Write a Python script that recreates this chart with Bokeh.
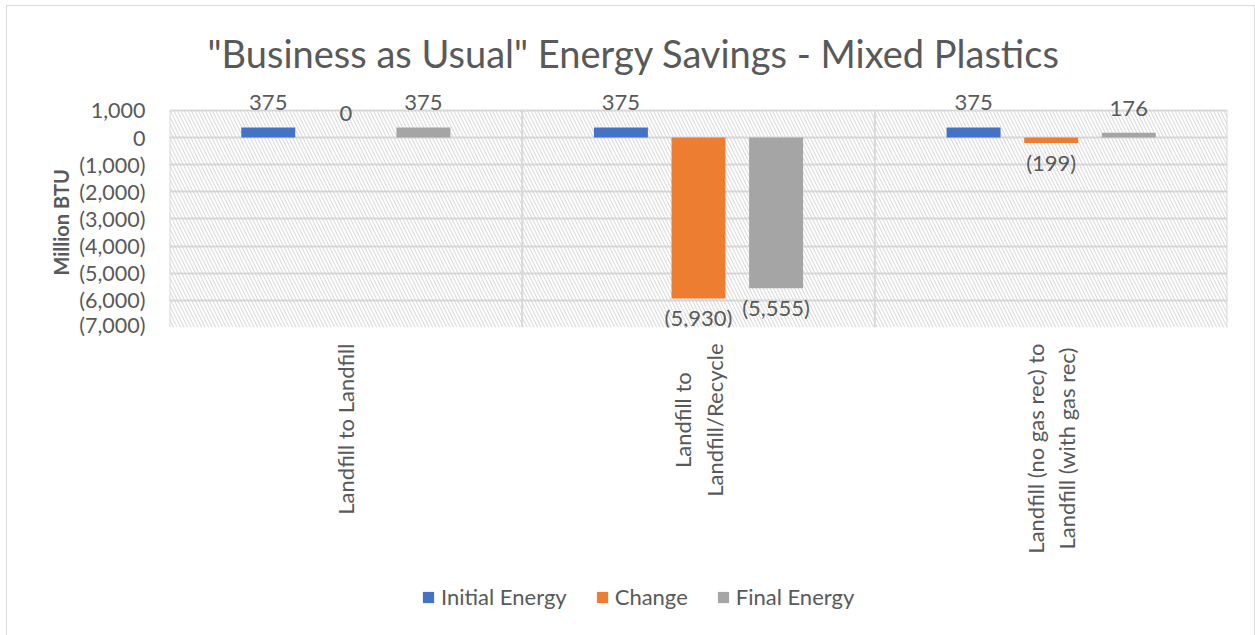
import math

from bokeh.core.properties import value
from bokeh.embed import file_html
from bokeh.layouts import column
from bokeh.models import (ColumnDataSource, FixedTicker, Legend, LegendItem,
                          NumeralTickFormatter, Range1d, Title)
from bokeh.plotting import figure
from bokeh.resources import INLINE
from bokeh.transform import dodge

# ---- data -------------------------------------------------------------
categories = [
    "Landfill to Landfill",
    "Landfill to\nLandfill/Recycle",
    "Landfill (no gas rec) to\nLandfill (with gas rec)",
]
series_names = ["Initial Energy", "Change", "Final Energy"]
initial_energy = [375, 375, 375]
change = [0, -5930, -199]
final_energy = [375, -5555, 176]
y_ticks = [1000, 0, -1000, -2000, -3000, -4000, -5000, -6000, -7000]

# ---- styling ----------------------------------------------------------
colors = ["#4472C4", "#ED7D31", "#A5A5A5"]
offsets = [-0.22, 0.0, 0.22]
bar_width = 0.153
text_color = "#595959"
grid_color = "#d9d9d9"
FONT = "Lato"

n = len(categories)
centers = [i + 0.5 for i in range(n)]
y_low, y_high = min(y_ticks), max(y_ticks)


def fmt(v):
    return f"({abs(v):,})" if v < 0 else f"{v:,}"


# ---- main chart -------------------------------------------------------
p = figure(
    width=1247, height=331,
    x_range=Range1d(0, n), y_range=Range1d(y_low, y_high + 700),
    output_backend="svg", toolbar_location=None,
    min_border_left=162, min_border_right=27,
    min_border_top=85, min_border_bottom=10,
)
p.outline_line_color = None
p.background_fill_color = "white"
p.border_fill_color = "white"

p.title.text = '"Business as Usual" Energy Savings - Mixed Plastics'
p.title.align = "left"
p.title.offset = 38
p.title.text_font = FONT
p.title.text_font_style = "normal"
p.title.text_font_size = "38px"
p.title.text_color = text_color
p.title.standoff = 32

# hatched plot area
p.quad(left=0, right=n, bottom=y_low, top=y_high, fill_color=None,
       line_color=None, hatch_pattern="left_diagonal_line",
       hatch_color="#cccccc", hatch_alpha=0.85, hatch_scale=7, hatch_weight=1)

# horizontal grid
p.xgrid.visible = False
p.ygrid.ticker = FixedTicker(ticks=y_ticks)
p.ygrid.grid_line_color = grid_color
p.ygrid.grid_line_width = 2

# category separators and plot-area edges
bounds = list(range(n + 1))
p.segment(x0=bounds, x1=bounds, y0=[y_low] * len(bounds), y1=[y_high] * len(bounds),
          line_color=grid_color, line_width=2)

# bars and value labels
for name, vals, col, off in zip(series_names, [initial_energy, change, final_energy], colors, offsets):
    src = ColumnDataSource(dict(
        x=centers, y=vals, label=[fmt(v) for v in vals],
        base=["top" if v < 0 else "bottom" for v in vals],
        yoff=[6 if v < 0 else -17 for v in vals],
    ))
    p.vbar(x=dodge("x", off), top="y", bottom=0, width=bar_width,
           fill_color=col, line_color=None, source=src)
    p.text(x=dodge("x", off), y="y", text="label", source=src,
           text_align="center", text_baseline="base", y_offset="yoff",
           text_font=value(FONT), text_font_size="22px", text_color=text_color)

# y axis
p.yaxis.ticker = FixedTicker(ticks=y_ticks)
p.yaxis.formatter = NumeralTickFormatter(format="(0,0)")
p.yaxis.axis_line_color = None
p.yaxis.major_tick_line_color = None
p.yaxis.minor_tick_line_color = None
p.yaxis.major_label_standoff = 18
p.yaxis.major_label_text_font = FONT
p.yaxis.major_label_text_font_size = "21.5px"
p.yaxis.major_label_text_color = text_color

y_title = Title(text="Million BTU", align="left", offset=52, standoff=8,
                text_font=FONT, text_font_style="bold", text_font_size="20px",
                text_color=text_color)
p.add_layout(y_title, "left")
p.xaxis.visible = False

# ---- category names and legend under the chart ------------------------
foot = figure(width=1247, height=298, x_range=p.x_range, y_range=Range1d(0, 1),
              output_backend="svg", toolbar_location=None,
              min_border_left=162, min_border_right=27,
              min_border_top=0, min_border_bottom=0, outline_line_color=None)
foot.axis.visible = False
foot.grid.visible = False

foot.text(x=centers, y=[1] * n, text=categories, angle=math.pi / 2,
          anchor="center_right", text_align="center", y_offset=6,
          text_font=value(FONT), text_font_size="22px", text_color=text_color,
          text_line_height=1.15)

items = []
for name, col in zip(series_names, colors):
    r = foot.vbar(x=[-1], top=[0], width=0.1, fill_color=col, line_color=None)
    items.append(LegendItem(label=name, renderers=[r]))
legend = Legend(items=items, orientation="horizontal", location=(252, 25),
                glyph_width=14, glyph_height=14, label_standoff=6, spacing=28,
                padding=0, margin=0, border_line_color=None, background_fill_alpha=0,
                label_text_font=FONT, label_text_font_size="22px",
                label_text_color=text_color)
foot.add_layout(legend, "center")

page = column(p, foot, spacing=0)
page.margin = (5, 0, 0, 6)
page.styles = {"border-top": "1px solid #d9d9d9", "border-left": "1px solid #d9d9d9",
               "border-right": "1px solid #d9d9d9", "background": "white"}

open("out.html", "w").write(file_html(page, INLINE))
